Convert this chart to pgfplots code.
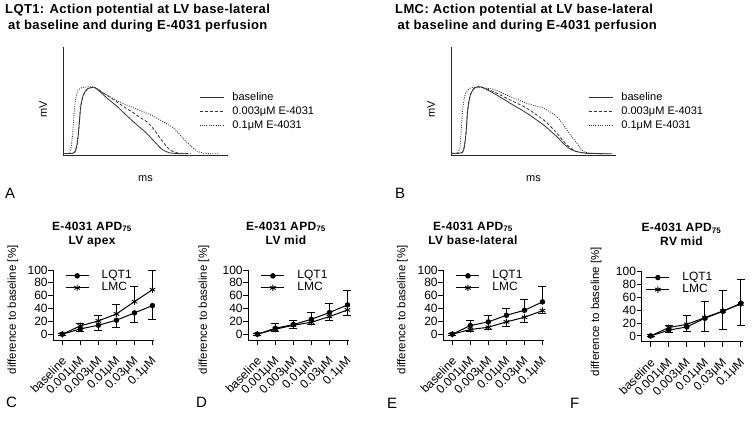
\documentclass[border=0pt]{standalone}
\usepackage{fontspec}
\setmainfont{Liberation Sans}
\newfontfamily\titlefont[LetterSpace=3]{Liberation Sans}
\usepackage{pgfplots}
\pgfplotsset{compat=1.18}
\newcommand\fs[1]{\fontsize{#1}{#1}\selectfont}
\pgfplotsset{
 apstyle/.style={scale only axis, width=165pt, height=108pt,
   xmin=0, xmax=165, ymin=0, ymax=108,
   axis lines=left, axis line style={-, line width=0.8pt, black!85},
   xtick=\empty, ytick=\empty, clip=false,
   xlabel={ms}, ylabel={mV},
   label style={font=\fs{11}},
   xlabel style={at={(axis description cs:0.5,-0.218)}, anchor=center},
   ylabel style={at={(axis description cs:-0.121,0.42)}, anchor=center},
   legend style={draw=none, fill=none, font=\fs{11}, anchor=north west,
     inner sep=0pt, row sep=2pt, column sep=8pt,
     nodes={inner sep=0.5pt, text height=8.5pt, text depth=2.5pt}},
   legend cell align=left,
   legend image code/.code={\draw[##1] (0pt,0pt) -- (24pt,0pt);},
 },
 apc/.style={black!80, line width=0.8pt, smooth, tension=0.4},
 apd/.style={scale only axis, width=101pt, height=70pt,
   xmin=-0.5, xmax=5.1, ymin=-9, ymax=100,
   axis lines=left, axis line style={-, line width=1pt, black},
   tick align=outside, major tick length=5pt,
   tick style={line width=1pt, black},
   xtick={0,...,5},
   xticklabels={baseline,0.001μM,0.003μM,0.01μM,0.03μM,0.1μM},
   ytick={0,20,...,100},
   /pgf/number format/assume math mode=true,
   xticklabel style={xshift=2pt, yshift=-14pt, rotate=45, anchor=east, font=\fs{12}, inner sep=0pt},
   yticklabel style={font=\fs{12}, inner sep=0.5pt},
   ylabel={difference to baseline [\%]},
   ylabel style={font=\fs{11.5}, anchor=center},
   clip=false,
   legend style={draw=none, fill=none, font=\fs{12}, anchor=north west,
     inner sep=0pt, row sep=0pt, column sep=12pt,
     nodes={inner sep=0.5pt, text height=8.5pt, text depth=2.5pt}},
   legend cell align=left,
   legend image code/.code={\draw[##1, mark repeat=2, mark phase=2] plot coordinates {(0pt,0pt) (11.5pt,0pt) (23pt,0pt)};},
 },
 lqt/.style={black, line width=1pt, mark=*, mark size=2.2pt, mark options={solid, fill=black}},
 lmc/.style={black, line width=1pt, mark=asterisk, mark size=3.2pt, mark options={solid, line width=0.9pt}},
 ebar/.style={error bars/.cd, y explicit, y dir=#1,
   error bar style={line width=1pt, black},
   error mark options={rotate=90, mark size=4pt, line width=1pt, black}},
}
\begin{document}
\begin{tikzpicture}
\path (0pt,0pt) rectangle (754pt,-422pt);
% top titles
\node[anchor=base west, inner sep=0, font=\titlefont\fs{13}\bfseries] at (5pt,-13.3pt) {LQT1: Action potential at LV base-lateral};
\node[anchor=base west, inner sep=0, font=\titlefont\fs{13}\bfseries] at (8pt,-30pt) {at baseline and during E-4031 perfusion};
\node[anchor=base west, inner sep=0, font=\titlefont\fs{13}\bfseries] at (395pt,-13.3pt) {LMC: Action potential at LV base-lateral};
\node[anchor=base west, inner sep=0, font=\titlefont\fs{13}\bfseries] at (397.5pt,-30pt) {at baseline and during E-4031 perfusion};
% panel letters
\node[anchor=base west, inner sep=0, font=\fs{15}] at (5pt,-198pt) {A};
\node[anchor=base west, inner sep=0, font=\fs{15}] at (395pt,-198pt) {B};
\node[anchor=base west, inner sep=0, font=\fs{15}] at (6pt,-407pt) {C};
\node[anchor=base west, inner sep=0, font=\fs{15}] at (196pt,-407pt) {D};
\node[anchor=base west, inner sep=0, font=\fs{15}] at (387pt,-408pt) {E};
\node[anchor=base west, inner sep=0, font=\fs{15}] at (570pt,-408pt) {F};
% bottom titles
\foreach \cx/\ya/\yb/\sub in {92/-230/-244/LV apex, 286/-230/-244/LV mid, 473/-230/-244/LV base-lateral, 681.5/-231.5/-245.5/RV mid}{
  \node[anchor=base, inner sep=0, font=\titlefont\fs{12}\bfseries] at (\cx pt,\ya pt) {E-4031 APD\textsubscript{75}};
  \node[anchor=base, inner sep=0, font=\titlefont\fs{12}\bfseries] at (\cx pt,\yb pt) {\sub};
}

% ---------------- A ----------------
\begin{axis}[apstyle, at={(63pt,-155pt)}, anchor=south west,
  legend style={at={(axis description cs:0.824,0.593)}}]
\addplot[apc] coordinates {(0,1.5)(8.7,1.5)(12,3.3)(14.3,11.7)(16,28.3)(17.7,48.3)(20.3,60)(24.3,66)(31,67.7)(37,63.3)(45,56)(53.7,49)(62,41)(70.3,33.3)(77,27.5)(83.7,21.7)(89,16)(93.7,11)(98,6.5)(102,4)(106,2.3)(110.3,1.7)(118,1.3)(124,1.2)};
\addplot[apc, dash pattern=on 3pt off 2pt] coordinates {(0,1.5)(8.7,1.5)(12,3.3)(14.3,11.7)(16,28.3)(17.7,48.3)(20.3,60)(24.3,66)(31,67.7)(37,64.3)(45,59)(53.7,53.3)(62,47.5)(70.3,42.3)(77,37.5)(83.7,33.3)(89,28)(93.7,21.7)(98.5,15)(103.7,8.3)(107,5)(110.3,3.3)(115,2)(120.3,1.7)(128,1.4)};
\addplot[apc, dash pattern=on 1pt off 1.3pt] coordinates {(0,1.5)(5.3,1.5)(7.7,5)(9.7,21.7)(11.7,48.3)(14.3,63.3)(18.7,67.3)(28.7,68.3)(33.7,66.7)(40,62)(47,58.3)(55,54)(63.7,50)(72,46.5)(80.3,43.3)(89,39.5)(97,35)(104,31)(110.3,27.3)(114.5,23)(118.7,18.3)(123,13.5)(127,10)(131,6)(135.3,3.3)(141,1.8)(147,1.3)(155.3,1.2)};
\legend{baseline, 0.003μM E-4031, 0.1μM E-4031}
\end{axis}

% ---------------- B ----------------
\begin{axis}[apstyle, at={(451pt,-155pt)}, anchor=south west,
  legend style={at={(axis description cs:0.83,0.593)}}]
\addplot[apc] coordinates {(0,1.7)(11,2.3)(13.3,8.3)(15,21.7)(16.7,45)(19.3,60)(23.3,66.7)(29.3,68.3)(42.7,61.7)(59.3,51.7)(76,41.7)(92.7,30)(99.5,24)(106,18.3)(111,13)(116,8.3)(121,5)(126,3.3)(136,1.7)(152.7,1.3)(160,1.2)};
\addplot[apc, dash pattern=on 3pt off 2pt] coordinates {(0,1.7)(11,2.3)(13.3,8.3)(15,21.7)(16.7,45)(19.3,60)(23.3,66.7)(29.3,68.3)(42.7,63.3)(59.3,55)(76,46.7)(92.7,35)(99.5,28.5)(106,21.7)(111,15.5)(116,10)(121,6)(126,3.3)(136,1.7)(152.7,1.3)};
\addplot[apc, dash pattern=on 1pt off 1.3pt] coordinates {(0,1.7)(6,1.7)(8.7,6.7)(10.3,25)(12,48.3)(14.3,61)(18.7,66.7)(26,67.7)(34,67)(42.7,65.7)(51,62)(59.3,58.3)(67.5,55)(76,51.7)(84,49.2)(92.7,46.7)(100,42.5)(106,38.3)(111,32)(116,25)(121,18)(126,11.7)(129.5,6.5)(132.7,3.3)(137,2.2)(142.7,1.7)(156,1.3)(162,1.3)};
\legend{baseline, 0.003μM E-4031, 0.1μM E-4031}
\end{axis}

% ---------------- C ----------------
\begin{axis}[apd, at={(53.3pt,-340pt)}, anchor=south west,
  ylabel style={at={(axis description cs:-0.40,0.43)}},
  legend style={at={(axis description cs:0.116,1.005)}}]
\addplot[lqt, ebar=minus] table[x=x, y=y, y error=e] {
x y e
0 0 1.5
1 8.3 4.7
2 14 8.3
3 21.8 11.4
4 33.2 14.5
5 44.6 21.3
};
\addplot[lmc, ebar=plus] table[x=x, y=y, y error=e] {
x y e
0 0 1.5
1 13 3
2 20.7 8.3
3 31.6 14
4 50.8 23
5 69.4 30.6
};
\legend{LQT1, LMC}
\end{axis}

% ---------------- D ----------------
\begin{axis}[apd, at={(248.3pt,-340pt)}, anchor=south west,
  ylabel style={at={(axis description cs:-0.44,0.43)}},
  legend style={at={(axis description cs:0.123,1.005)}}]
\addplot[lqt, ebar=plus] table[x=x, y=y, y error=e] {
x y e
0 0 1.5
1 9.3 7.8
2 15 5.7
3 23.3 11
4 33.7 13.5
5 45.6 21.8
};
\addplot[lmc, ebar=minus] table[x=x, y=y, y error=e] {
x y e
0 0 1.5
1 7.8 3
2 14 5
3 18.7 4.2
4 27.5 6.8
5 37.8 8.3
};
\legend{LQT1, LMC}
\end{axis}

% ---------------- E ----------------
\begin{axis}[apd, at={(443.3pt,-340pt)}, anchor=south west,
  ylabel style={at={(axis description cs:-0.405,0.43)}},
  legend style={at={(axis description cs:0.123,1.005)}}]
\addplot[lqt, ebar=plus] table[x=x, y=y, y error=e] {
x y e
0 0 1.5
1 13.5 7.2
2 19.2 9.8
3 29.5 10.9
4 37.3 17.1
5 50.3 23.7
};
\addplot[lmc, ebar=minus] table[x=x, y=y, y error=e] {
x y e
0 0 1.5
1 7.3 2.6
2 10.9 4
3 19.2 7
4 26.4 8.3
5 36.8 5.2
};
\legend{LQT1, LMC}
\end{axis}

% ---------------- F ----------------
\begin{axis}[apd, at={(641.7pt,-341.7pt)}, anchor=south west,
  ylabel style={at={(axis description cs:-0.45,0.43)}},
  legend style={at={(axis description cs:0.039,1.005)}}]
\addplot[lqt, ebar=minus] table[x=x, y=y, y error=e] {
x y e
0 0 1.5
1 9 3
2 14 6.7
3 27.5 20.2
4 38.3 27.9
5 50.8 34.8
};
\addplot[lmc, ebar=plus] table[x=x, y=y, y error=e] {
x y e
0 0 1.5
1 13 3
2 18 14.3
3 28.5 25.5
4 38.8 31.2
5 49.8 38.2
};
\legend{LQT1, LMC}
\end{axis}
\end{tikzpicture}
\end{document}
